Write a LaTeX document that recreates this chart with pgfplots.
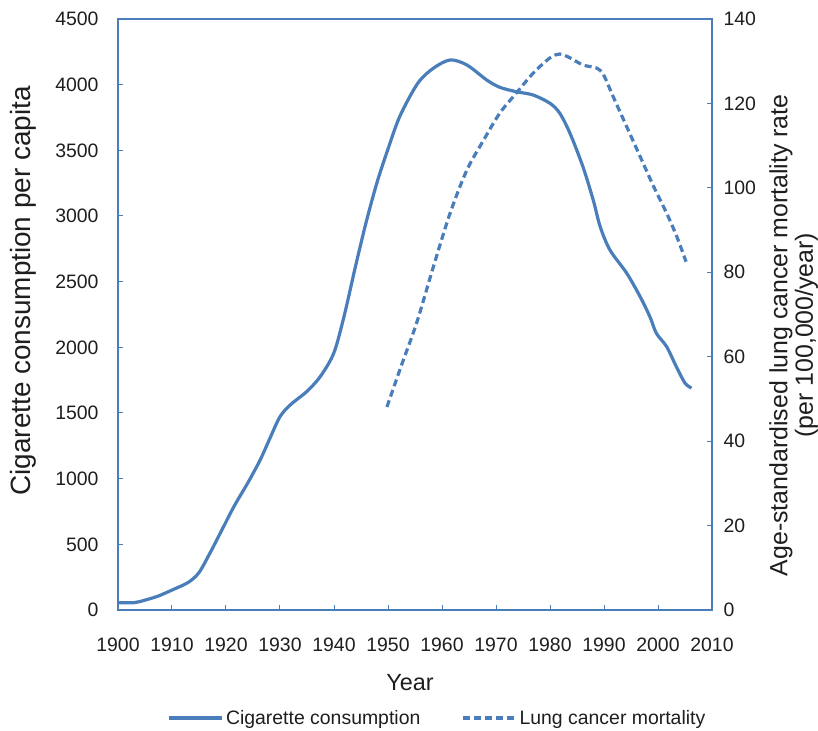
\documentclass[border=0pt]{standalone}
\usepackage{fontspec}
\setmainfont{Liberation Sans}
\usepackage{pgfplots}
\pgfplotsset{compat=1.18}
\definecolor{xblue}{RGB}{74,126,187}
\definecolor{txt}{RGB}{30,30,30}
\begin{document}
\begin{tikzpicture}
\begin{axis}[
 at={(0,0)}, anchor=south west,
 scale only axis, width=594bp, height=591bp,
 xmin=1900, xmax=2010, ymin=0, ymax=4500,
 xtick={1900,1910,...,2010}, ytick={0,500,...,4500},
 tick align=inside, xtick pos=bottom, ytick pos=left,
 major tick length=5bp,
 axis line style={xblue, line width=1.3bp},
 every tick/.style={xblue, line width=1bp},
 /pgf/number format/assume math mode=true,
 /pgf/number format/1000 sep={},
 ticklabel style={font=\fontsize{19.5}{22}\selectfont, text=txt},
 xticklabel style={yshift=-24bp},
 yticklabel style={xshift=-16bp},
 xlabel={Year},
 xlabel style={at={(axis description cs:0.4916,-0.1235)}, anchor=center, font=\fontsize{23.5}{26}\selectfont, text=txt},
 ylabel={Cigarette consumption per capita},
 ylabel style={at={(axis description cs:-0.159,0.54)}, anchor=center, font=\fontsize{28}{30}\selectfont, text=txt},
 legend columns=2,
 legend style={at={(axis description cs:0.538,-0.1827)}, anchor=center, draw=none, fill=none,
   font=\fontsize{19.5}{22}\selectfont, text=txt, inner sep=0pt,
   /tikz/every even column/.append style={column sep=39bp}},
 legend image code/.code={\draw[#1] (0bp,0bp) -- (53bp,0bp);},
]
\addplot[xblue, line width=3.2bp, smooth] coordinates {
(1900,56) (1903,56) (1905,75) (1907.5,107) (1910,152) (1913,210) (1915,285)
(1917,431) (1919,590) (1921.5,790) (1924,965) (1926.3,1140) (1928,1295)
(1930,1472) (1932,1565) (1935,1665) (1937.5,1780) (1940,1960) (1942,2260)
(1944,2620) (1946,2960) (1948,3260) (1950,3510) (1952.2,3760) (1955.5,4010)
(1958.4,4125) (1961.5,4188) (1964.6,4150) (1968.3,4035) (1970.7,3980)
(1973.8,3946) (1976.9,3921) (1980,3858) (1981.8,3783) (1983.7,3630)
(1986.1,3375) (1988,3122) (1989.3,2918) (1991.1,2741) (1994.2,2565)
(1996.7,2385) (1998.5,2233) (1999.7,2107) (2001.6,2005) (2003.4,1852)
(2005,1728) (2006.2,1690)
};
\addlegendentry{Cigarette consumption}
\addlegendimage{xblue, line width=3.2bp, dash pattern=on 7bp off 4bp}
\addlegendentry{Lung cancer mortality}
\end{axis}
\begin{axis}[
 at={(0,0)}, anchor=south west,
 scale only axis, width=594bp, height=591bp,
 xmin=1900, xmax=2010, ymin=0, ymax=140,
 ytick={0,20,...,140},
 hide x axis,
 ytick pos=right, yticklabel pos=right,
 tick align=inside,
 major tick length=5bp,
 axis line style={xblue, line width=1.3bp},
 every tick/.style={xblue, line width=1bp},
 /pgf/number format/assume math mode=true,
 ticklabel style={font=\fontsize{19.5}{22}\selectfont, text=txt},
 yticklabel style={xshift=8bp},
 ylabel={Age-standardised lung cancer mortality rate\\(per 100,000/year)},
 ylabel style={align=center, at={(axis description cs:1.1375,0.465)}, anchor=center, font=\fontsize{25}{25.5}\selectfont, text=txt},
]
\addplot[xblue, line width=3.2bp, dash pattern=on 7bp off 4bp, smooth] coordinates {
(1949.8,48.1) (1952.5,58) (1955.3,68) (1958.4,81.3) (1961.5,94) (1964.6,104.2)
(1967.7,111.3) (1970.7,117.7) (1973.8,122.5) (1976.9,127.2) (1980,130.8)
(1981.8,131.7) (1983.7,130.8) (1986.1,129.1) (1988.6,128.4) (1989.9,126.8)
(1991.7,121.6) (1994.2,114.5) (1996.7,107.4) (1999.2,100.3) (2001.6,94)
(2003.5,88.4) (2005.2,82.5)
};
\end{axis}
\pgfresetboundingbox
\path (-118bp,-121bp) rectangle (700bp,610bp);
\end{tikzpicture}
\end{document}
